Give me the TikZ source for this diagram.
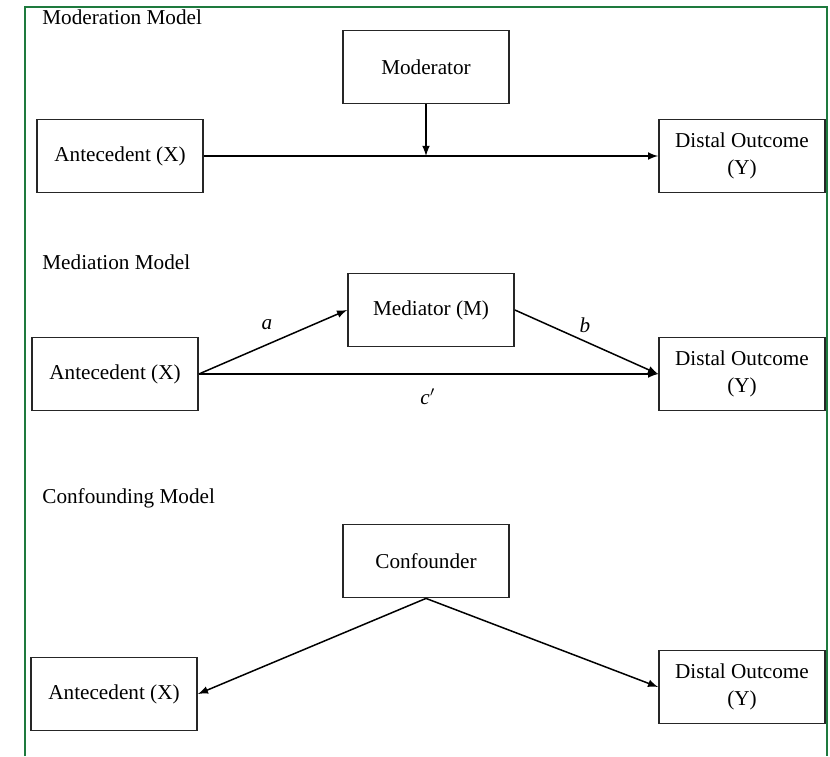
\documentclass[tikz,border=0pt]{standalone}
\usepackage{fontspec}
\setmainfont{Liberation Serif}
\usetikzlibrary{arrows,positioning,calc}
\definecolor{framecolor}{RGB}{30,122,62}
\newcommand{\boxfont}{\fontsize{10.6}{13.5}\selectfont}

\tikzset{
  modelbox/.style={draw=black!85, line width=0.9pt, minimum width=83pt,
    minimum height=36.5pt, inner sep=0pt, align=center, font=\boxfont},
  modeltitle/.style={anchor=west, inner sep=0pt, font=\boxfont},
  pathlabel/.style={font=\boxfont\itshape, inner sep=0pt},
  link/.style={-latex, line width=0.75pt}
}

\begin{document}
\begin{tikzpicture}[x=0.5pt, y=-0.5pt]
\useasboundingbox (0,0) rectangle (830,756);
% frame
\draw[framecolor, line width=1.1pt] (25,756) -- (25,7) -- (827,7) -- (827,756);

% moderation
\node[modeltitle] (titlemod) at (42,17) {Moderation Model};
\node[modelbox] (ante1) at (120,156) {Antecedent (X)};
\node[modelbox] (dist1) at (742,156) {Distal Outcome\\(Y)};
\node[modelbox] (moder) at (426,67) {Moderator};
\coordinate (meet) at (moder.south |- ante1.east);
\draw[link] (ante1) -- (dist1);
\draw[link] (moder) -- (meet);

% mediation
\node[modeltitle] (titlemed) at (42,262) {Mediation Model};
\node[modelbox] (ante2) at (115,374) {Antecedent (X)};
\node[modelbox] (medi) at (431,310) {Mediator (M)};
\node[modelbox] (dist2) at (742,374) {Distal Outcome\\(Y)};
\draw[link] (ante2.east) -- (medi.west);
\draw[link] (medi.east) -- (dist2.west);
\draw[link] (ante2.east) -- (dist2.west);
\node[pathlabel] (pa) at (267,325) {a};
\node[pathlabel] (pb) at (585,325) {b};
\node[pathlabel] (pc) at (428,397) {c$'$};

% confounding
\node[modeltitle] (titleconf) at (42,498) {Confounding Model};
\node[modelbox] (conf) at (426,561) {Confounder};
\node[modelbox] (ante3) at (114,694) {Antecedent (X)};
\node[modelbox] (dist3) at (742,687) {Distal Outcome\\(Y)};
\draw[link] (conf.south) -- (ante3.east);
\draw[link] (conf.south) -- (dist3.west);
\end{tikzpicture}
\end{document}
